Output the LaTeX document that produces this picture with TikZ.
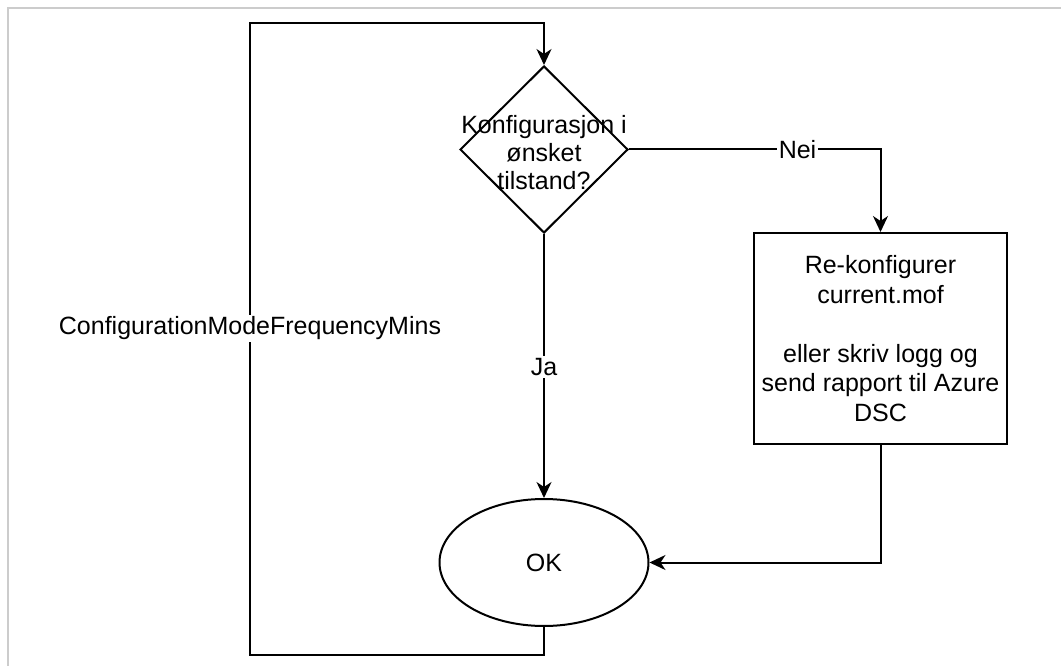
\documentclass[tikz,border=0pt]{standalone}
\usepackage{fontspec}
\setmainfont{Liberation Sans}
\usetikzlibrary{arrows.meta,shapes.geometric}

\tikzset{
  flow/.style={line width=2pt, draw=black},
  arrowed/.style={flow, -{Stealth[length=16pt,width=15pt,inset=5pt]}},
  basetext/.style={font=\fontsize{25}{28}\selectfont, text=black},
  decision/.style={draw, line width=2pt, diamond, aspect=1, inner sep=0pt,
                   minimum width=168pt, minimum height=167pt},
  terminal/.style={draw, line width=2pt, ellipse, inner sep=0pt,
                   minimum width=209pt, minimum height=127pt, basetext},
  process/.style={draw, line width=2pt, rectangle, inner sep=0pt,
                  minimum width=253pt, minimum height=211pt, basetext, align=center},
  lbl/.style={basetext, fill=white, inner sep=2pt},
  frameline/.style={draw=black!20, line width=2pt}
}

\begin{document}
\begin{tikzpicture}[x=1pt, y=-1pt]
  \useasboundingbox (0,0) rectangle (1061,666);
  \fill[white] (0,0) rectangle (1061,666);

  % page frame edges
  \draw[frameline] (8,666) -- (8,8) -- (1061,8);

  % shapes
  \node[decision] (q) at (544,149.5) {};
  \node[basetext, align=center] (qtext) at (544,153) {Konfigurasjon i\\ønsket\\tilstand?};
  \node[terminal] (ok) at (544,562.5) {OK};
  \node[process, font=\fontsize{25}{29.5}\selectfont] (fix) at (880.5,338.5)
    {Re-konfigurer\\current.mof\\[29.5pt]eller skriv logg og\\send rapport til Azure\\DSC};

  % loop corners
  \coordinate (loopbl) at (250,655);
  \coordinate (looptl) at (250,23);

  % connectors
  \draw[arrowed] (q.south) -- node[lbl, pos=0.504] {Ja} (ok.north);
  \draw[arrowed] (q.east) -| node[lbl, pos=0.335] {Nei} (fix.north);
  \draw[arrowed] (fix.south) |- (ok.east);
  \draw[arrowed] (ok.south) |- (loopbl)
    -- node[lbl, pos=0.517] {ConfigurationModeFrequencyMins} (looptl)
    -| (q.north);
\end{tikzpicture}
\end{document}
